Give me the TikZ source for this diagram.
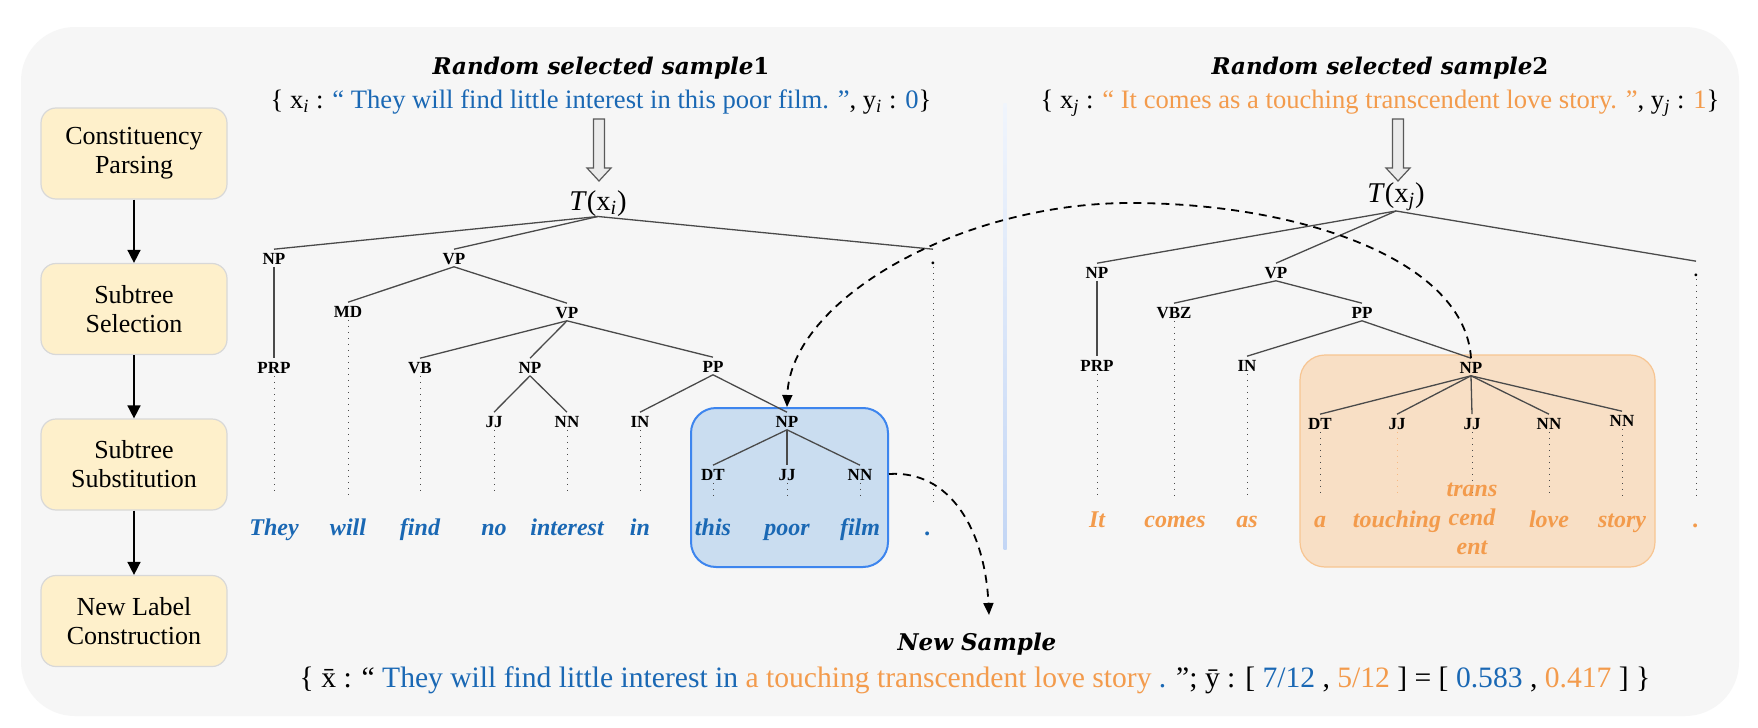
\documentclass[tikz,border=0pt]{standalone}
\usepackage{fontspec}
\setmainfont{Liberation Serif}
\newfontfamily\dvfont{DejaVu Serif}
\usetikzlibrary{arrows.meta}
\definecolor{cblue}{HTML}{1A68B4}
\definecolor{corange}{HTML}{F39B4C}
\definecolor{bggray}{HTML}{F6F6F6}
\definecolor{boxyellow}{HTML}{FEF0CB}
\definecolor{boxborder}{HTML}{D8D8D8}
\definecolor{treeline}{HTML}{4A4A4A}
\definecolor{bluefill}{HTML}{CADDF0}
\definecolor{blueedge}{HTML}{3D85EE}
\definecolor{orangefill}{HTML}{F8DFC5}
\definecolor{orangeedge}{HTML}{F7C592}
\definecolor{sepblue}{HTML}{C3D6F5}
\newcommand\mysub[1]{\textsubscript{\itshape #1}}
\begin{document}
\begin{tikzpicture}[x=0.5pt,y=-0.5pt,
  flowbox/.style={draw=boxborder, line width=0.6pt, fill=boxyellow, rounded corners=7.5pt,
    minimum width=93pt, minimum height=45.5pt, align=center,
    font=\fontsize{13}{14.5}\selectfont, inner sep=0pt},
  flowarrow/.style={draw=black, line width=0.8pt, -{Triangle[length=6.5pt,width=6.5pt]}},
  tagnode/.style={font=\fontsize{8.5}{9}\selectfont\bfseries, text height=6pt, text depth=0pt, inner sep=1.2pt},
  wordnode/.style={font=\fontsize{12}{13}\selectfont\bfseries\itshape, anchor=base, inner sep=0pt},
  bword/.style={wordnode, text=cblue},
  oword/.style={wordnode, text=corange},
  treeedge/.style={draw=treeline, line width=0.65pt},
  dotleaf/.style={draw=treeline, line width=0.5pt, dash pattern=on 0.5pt off 2.5pt},
  sentnode/.style={font=\fontsize{13.3}{15}\selectfont, anchor=base, inner sep=0pt},
  ttlnode/.style={font=\dvfont\fontsize{11.5}{13}\selectfont\bfseries\itshape, anchor=base, inner sep=0pt},
  dashlink/.style={draw=black, line width=0.9pt, dash pattern=on 4pt off 3pt, -{Triangle[length=6pt,width=5pt]}},
  hollowarrow/.style={draw=black!65, line width=0.6pt, fill=black!8},
]
\fill[white] (0,0) rectangle (1758,728);
\useasboundingbox (0,0) rectangle (1758,728);
\fill[bggray, rounded corners=27pt] (21,27) rectangle (1739,716);
% separator
\shade[top color=sepblue!25, bottom color=sepblue] (1003.5,103) rectangle (1006.5,549);

% flow boxes
\node[flowbox] (f1) at (134,153.5) {Constituency\\Parsing};
\node[flowbox] (f2) at (134,309) {Subtree\\Selection};
\node[flowbox] (f3) at (134,464.5) {Subtree\\Substitution};
\node[flowbox] (f4) at (134,621) {New Label\\Construction};
\draw[flowarrow] (f1) -- (f2);
\draw[flowarrow] (f2) -- (f3);
\draw[flowarrow] (f3) -- (f4);

% highlight boxes
\node[draw=blueedge, line width=1pt, fill=bluefill, rounded corners=12.5pt, minimum width=98.5pt, minimum height=79.5pt, inner sep=0pt] (boxB) at (789.5,487.5) {};
\node[draw=orangeedge, line width=0.6pt, fill=orangefill, rounded corners=12.5pt, minimum width=177.5pt, minimum height=106pt, inner sep=0pt] (boxO) at (1477.5,461) {};

% titles and sentences
\node[ttlnode] (t1) at (601,75) {Random selected sample\textup{1}};
\node[sentnode] (s1) at (601,108) {\{ x\mysub{i} : {\color{cblue}“ They will find little interest in this poor film. ”}, y\mysub{i} : {\color{cblue}0}\}};
\node[ttlnode] (t2) at (1380,75) {Random selected sample\textup{2}};
\node[sentnode] (s2) at (1380,108) {\{ x\mysub{j} : {\color{corange}“ It comes as a touching transcendent love story. ”}, y\mysub{j} : {\color{corange}1}\}};

% hollow arrows
\draw[hollowarrow] (593.5,119) -- (604.5,119) -- (604.5,168) -- (611,168) -- (599,181) -- (587,168) -- (593.5,168) -- cycle;
\draw[hollowarrow] (1392.5,119) -- (1403.5,119) -- (1403.5,168) -- (1410,168) -- (1398,181) -- (1386,168) -- (1392.5,168) -- cycle;

\node[sentnode, font=\fontsize{14.3}{16}\selectfont] (Tl) at (598,210) {\textit{T}(x\mysub{i})};
\node[sentnode, font=\fontsize{14.3}{16}\selectfont] (Tr) at (1396,202) {\textit{T}(x\mysub{j})};

\coordinate (lend) at (0,495);
\coordinate (lendP) at (0,505);
\coordinate (rend) at (0,495);
\coordinate (rendP) at (0,500);

% ---------- left tree
\node[tagnode] (lNP) at (274,258) {NP};
\node[tagnode] (lVP) at (454,258) {VP};
\node[tagnode] (lPu) at (933,258) {.};
\node[tagnode] (lPRP) at (274,367) {PRP};
\node[tagnode] (lMD) at (348,311) {MD};
\node[tagnode] (lVP2) at (567,312) {VP};
\node[tagnode] (lVB) at (420,367) {VB};
\node[tagnode] (lNP2) at (530,367) {NP};
\node[tagnode] (lPP) at (713,366) {PP};
\node[tagnode] (lJJ) at (494,421) {JJ};
\node[tagnode] (lNN) at (567,421) {NN};
\node[tagnode] (lIN) at (640,421) {IN};
\node[tagnode] (lNP3) at (787,421) {NP};
\node[tagnode] (lDT) at (713,474) {DT};
\node[tagnode] (lJJ2) at (787,474) {JJ};
\node[tagnode] (lNN2) at (860,474) {NN};

\draw[treeedge] (Tl.south) -- (lNP.north);
\draw[treeedge] (Tl.south) -- (lVP.north);
\draw[treeedge] (Tl.south) -- (lPu.north);
\draw[treeedge] (lNP.south) -- (lPRP.north);
\draw[treeedge] (lVP.south) -- (lMD.north);
\draw[treeedge] (lVP.south) -- (lVP2.north);
\draw[treeedge] (lVP2.south) -- (lVB.north);
\draw[treeedge] (lVP2.south) -- (lNP2.north);
\draw[treeedge] (lVP2.south) -- (lPP.north);
\draw[treeedge] (lNP2.south) -- (lJJ.north);
\draw[treeedge] (lNP2.south) -- (lNN.north);
\draw[treeedge] (lPP.south) -- (lIN.north);
\draw[treeedge] (lPP.south) -- (lNP3.north);
\draw[treeedge] (lNP3.south) -- (lDT.north);
\draw[treeedge] (lNP3.south) -- (lJJ2.north);
\draw[treeedge] (lNP3.south) -- (lNN2.north);

\foreach \n in {lPRP,lMD,lVB,lJJ,lNN,lIN,lDT,lJJ2,lNN2}
  \draw[dotleaf] (\n.south) -- (\n.south |- lend);
\draw[dotleaf] (lPu.south) -- (lPu.south |- lendP);

\node[bword] (lw1) at (274,535) {They};
\node[bword] (lw2) at (348,535) {will};
\node[bword] (lw3) at (420,535) {find};
\node[bword] (lw4) at (494,535) {no};
\node[bword] (lw5) at (567,535) {interest};
\node[bword] (lw6) at (640,535) {in};
\node[bword] (lw7) at (713,535) {this};
\node[bword] (lw8) at (787,535) {poor};
\node[bword] (lw9) at (860,535) {film};
\node[bword] (lw10) at (928,535) {.};

% ---------- right tree
\node[tagnode] (rNP) at (1097,272) {NP};
\node[tagnode] (rVP) at (1276,272) {VP};
\node[tagnode] (rPu) at (1696,270) {.};
\node[tagnode] (rPRP) at (1097,365) {PRP};
\node[tagnode] (rVBZ) at (1174,312) {VBZ};
\node[tagnode] (rPP) at (1362,312) {PP};
\node[tagnode] (rIN) at (1247,365) {IN};
\node[tagnode] (rNP2) at (1471,367) {NP};
\node[tagnode] (rDT) at (1320,423) {DT};
\node[tagnode] (rJJ) at (1397,423) {JJ};
\node[tagnode] (rJJ2) at (1472,423) {JJ};
\node[tagnode] (rNN) at (1549,423) {NN};
\node[tagnode] (rNN2) at (1622,420) {NN};

\draw[treeedge] (Tr.south) -- (rNP.north);
\draw[treeedge] (Tr.south) -- (rVP.north);
\draw[treeedge] (Tr.south) -- (rPu.north);
\draw[treeedge] (rNP.south) -- (rPRP.north);
\draw[treeedge] (rVP.south) -- (rVBZ.north);
\draw[treeedge] (rVP.south) -- (rPP.north);
\draw[treeedge] (rPP.south) -- (rIN.north);
\draw[treeedge] (rPP.south) -- (rNP2.north);
\foreach \n in {rDT,rJJ,rJJ2,rNN,rNN2}
  \draw[treeedge] (rNP2.south) -- (\n.north);

\foreach \n in {rPRP,rVBZ,rIN,rDT,rJJ2,rNN,rNN2}
  \draw[dotleaf] (\n.south) -- (\n.south |- rend);
\draw[dotleaf, draw=corange!70] (rJJ.south) -- (rJJ.south |- rend);
\draw[dotleaf] (rPu.south) -- (rPu.south |- rendP);

\node[oword] (rw1) at (1097,527) {It};
\node[oword] (rw2) at (1175,527) {comes};
\node[oword] (rw3) at (1247,527) {as};
\node[oword] (rw4) at (1320,527) {a};
\node[oword] (rw5) at (1397,527) {touching};
\node[oword] (rw6a) at (1472,496) {trans};
\node[oword] (rw6b) at (1472,525) {cend};
\node[oword] (rw6c) at (1472,554) {ent};
\node[oword] (rw7) at (1549,527) {love};
\node[oword] (rw8) at (1622,527) {story};
\node[oword] (rw9) at (1696,527) {.};

% ---------- dashed links
\draw[dashlink] (rNP2.north) .. controls (1465,260) and (1300,203) .. (1130,203)
  .. controls (960,203) and (790,300) .. (boxB.north -| lNP3);
\coordinate (newEnd) at (989,615);
\draw[dashlink] (boxB.east |- lNN2) .. controls (950,470) and (985,530) .. (newEnd);

% ---------- new sample
\node[ttlnode] (ns) at (977,650) {New Sample};
\node[sentnode, font=\fontsize{14.8}{16}\selectfont] (sb) at (975,687) {\{ \={x} : “ {\color{cblue}They will find little interest in} {\color{corange}a touching transcendent love story} {\color{cblue}.} ”; \={y} : [ {\color{cblue}7/12} , {\color{corange}5/12} ] = [ {\color{cblue}0.583} , {\color{corange}0.417} ] \}};
\end{tikzpicture}
\end{document}
